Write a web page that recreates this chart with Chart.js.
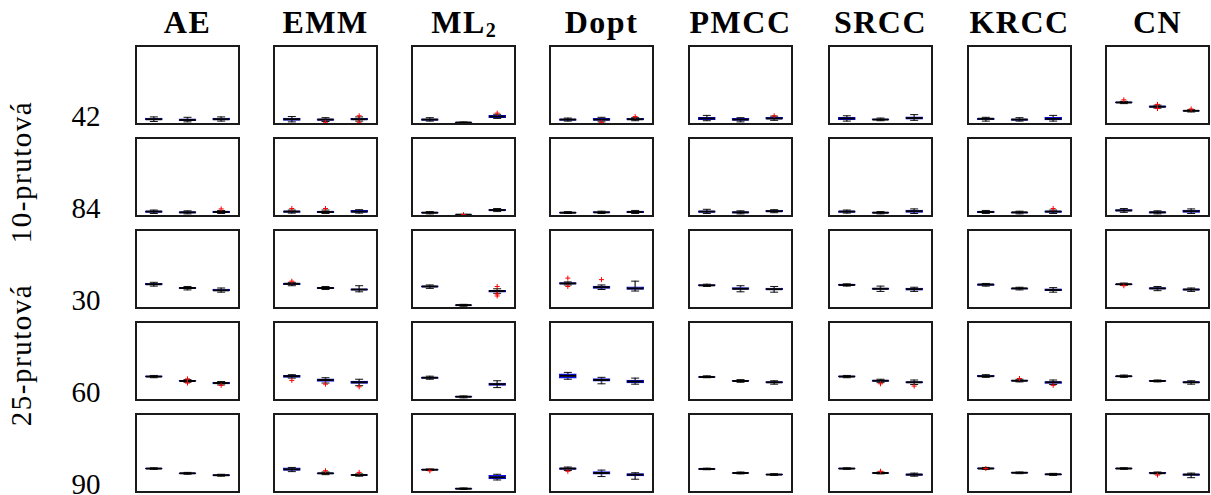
<!DOCTYPE html>
<html>
<head>
<meta charset="utf-8">
<script src="https://cdn.jsdelivr.net/npm/chart.js@4/dist/chart.umd.min.js"></script>
<style>
  html, body { margin: 0; padding: 0; background: #fff; }
  #wrap { position: relative; width: 1211px; height: 495px; overflow: hidden; font-family: "Liberation Serif", serif; color: #000; }
  .panel { position: absolute; box-sizing: border-box; border: 2px solid #1a1a1a; width: 105px; height: 80px; background: #fff; }
  .panel canvas { display: block; }
  .title { position: absolute; font-weight: bold; font-size: 32px; line-height: 32px; letter-spacing: 1.5px; white-space: nowrap; transform: translateX(-50%); }
  .title sub { font-size: 20px; line-height: 0; vertical-align: -4px; letter-spacing: 0; }
  .rowlab { position: absolute; font-size: 29px; line-height: 29px; transform: translateX(-50%); }
  .grplab { position: absolute; font-size: 29px; line-height: 29px; letter-spacing: 1.5px; white-space: nowrap; transform: translate(-50%, -50%) rotate(-90deg); }
</style>
</head>
<body>
<div id="wrap"></div>
<script>
// column titles, row labels, group labels
const methods = ['AE', 'EMM', 'ML<sub>2</sub>', 'Dopt', 'PMCC', 'SRCC', 'KRCC', 'CN'];
const rowLabels = ['42', '84', '30', '60', '90'];
const groupLabels = ['10-prutová', '25-prutová'];
const boxLabels = ['1', '2', '3'];

// boxplot stats per row, 3 boxes per method: [low whisker, q1, median, q3, high whisker]
// values are read as % of panel height from the bottom (no y ticks in the figure)
const boxes42 = [
  [2, 4, 5, 6.5, 8], [1.5, 3, 4, 5.5, 7.5], [2.5, 4, 5, 6.5, 8],
  [1.5, 3.5, 5, 6.5, 8.5], [2, 3.5, 4.5, 5.5, 7], [2.5, 4, 5, 6, 8],
  [2.5, 3.5, 4.5, 5.5, 7], [0, 0.3, 0.6, 1, 1.3], [6, 7, 8.5, 10, 11.5],
  [2.5, 3.5, 4.5, 5.5, 6.5], [1.5, 3.5, 4.5, 6, 7.5], [3, 4, 5, 6, 7],
  [3, 4.5, 6, 7.5, 10], [1.5, 3.5, 4.5, 6, 7], [3.5, 5, 6, 7.5, 9],
  [2.5, 4.5, 6, 7.5, 9.5], [3, 4, 4.5, 5.5, 6.5], [3.5, 5, 6.5, 8, 11],
  [2.5, 4.5, 5.5, 6.5, 7.5], [2.5, 3.5, 4.5, 5.5, 7], [2.5, 4, 5.5, 7.5, 10],
  [25.5, 26.5, 27, 28, 28.5], [19.5, 20.5, 21.5, 22.5, 23.5], [14.5, 15.5, 16, 16.5, 17.5]
];
const boxes84 = [
  [2, 3.5, 4.5, 5.5, 6.5], [1.5, 2.5, 3.5, 4.5, 5.5], [2, 3, 4, 5, 6],
  [2.5, 3.5, 4.5, 5.5, 6.5], [2, 3, 4, 5, 6.5], [2.5, 3.5, 4.5, 6, 7],
  [1.5, 2.5, 3, 4, 4.5], [0, 0.2, 0.4, 0.6, 0.8], [4.5, 5.5, 6.5, 7.5, 8.5],
  [2, 2.5, 3, 4, 4.5], [2, 3, 3.5, 4.5, 5], [2, 3, 4, 5, 6],
  [2, 3.5, 4.5, 5.5, 7.5], [1.5, 2.5, 3.5, 4.5, 5.5], [3, 4, 5, 6, 7],
  [2.5, 3.5, 4.5, 5.5, 6.5], [1.5, 2.5, 3, 4, 4.5], [2, 3.5, 5, 6.5, 8],
  [2, 3, 4, 5, 6], [1.5, 2.5, 3.5, 4, 5], [2, 3.5, 4.5, 5.5, 6.5],
  [3.5, 5, 6, 7, 8.5], [1.5, 2.5, 3.5, 4.5, 5.5], [2, 3.5, 5, 6.5, 8]
];
const boxes30 = [
  [27.5, 29, 30, 31, 32.5], [22.5, 24, 25, 26, 27], [19.5, 21, 22, 23.5, 25],
  [28, 29.5, 30.5, 31.5, 32.5], [23, 24, 25, 26, 27], [20, 22, 23, 24, 28],
  [24.5, 26, 27, 28, 29], [1, 2, 2.5, 3, 3.5], [18, 19.5, 21, 22, 24],
  [29, 30, 31, 32, 33], [23, 24.5, 26, 27.5, 29], [21, 23, 24.5, 26.5, 34],
  [27, 28, 28.5, 29.5, 30], [20, 23, 24, 25.5, 28], [19.5, 22.5, 23.5, 25, 27],
  [27.5, 28.5, 29, 30, 30.5], [20.5, 23, 24, 25, 27.5], [20.5, 22, 23.5, 25, 26],
  [27.5, 28.5, 29.5, 30.5, 31], [22.5, 23.5, 24.5, 25, 26], [19.5, 21.5, 22.5, 24, 25.5],
  [28.5, 29.5, 30, 30.5, 31.5], [21.5, 23.5, 24.5, 25.5, 27], [20.5, 22, 23, 24, 25]
];
const boxes60 = [
  [28, 29, 29.5, 30.5, 31], [22, 23, 23.7, 24.5, 25.5], [18.5, 20, 21, 22, 23],
  [27.5, 28.5, 30, 31, 32], [21, 23, 25, 26.5, 28], [17.5, 20.5, 22, 23.5, 26],
  [26, 27, 28, 29, 30], [1.5, 2.5, 3, 3.5, 4], [15, 18, 19.5, 21, 24],
  [26, 27.5, 30.5, 33, 35], [20, 23.5, 25, 27, 28.5], [19.5, 21, 23, 25, 27.5],
  [28, 28.5, 29, 29.5, 30.5], [22, 23, 23.7, 24.5, 25.5], [19.5, 21, 22, 23, 24],
  [28, 29, 29.5, 30.5, 31], [21.5, 23, 24, 25, 26], [19, 21, 22, 23, 25],
  [28.5, 29.5, 30, 31, 32], [22.5, 23.5, 24, 25, 26], [19, 20.5, 22, 23, 25],
  [28.5, 29.5, 30, 30.5, 31.5], [22.5, 23, 23.7, 24.5, 25], [19.5, 21, 22, 23, 24]
];
const boxes90 = [
  [28.5, 29, 29.5, 30, 30.5], [22, 22.8, 23.3, 24, 24.5], [19.5, 20.2, 20.8, 21.5, 22],
  [25.5, 27, 28.5, 30.5, 31], [21.5, 22.5, 23.3, 24, 25], [19.5, 20.5, 21, 21.5, 22.5],
  [27, 27.5, 28, 28.5, 29], [2, 2.5, 3, 3.5, 4], [14.5, 16, 18, 20.5, 22],
  [27, 28.5, 29.5, 30.5, 31.5], [19, 22, 23.7, 25.5, 27.5], [15.5, 20, 21.5, 23, 24],
  [28, 28.5, 29, 29.5, 30], [22.5, 23, 23.7, 24.3, 25], [20.5, 21, 21.6, 22.2, 22.8],
  [28.5, 29, 29.5, 30, 30.5], [22.5, 23, 23.7, 24.3, 25], [19.5, 20.5, 21.6, 22.5, 23.5],
  [28.5, 29, 29.6, 30.5, 31], [22.8, 23.4, 24, 24.5, 25], [20.5, 21.2, 22, 22.6, 23.2],
  [28.5, 29, 29.6, 30.2, 30.6], [22.5, 23, 23.5, 24.5, 25], [17.5, 20.5, 21.6, 22.5, 23.5]
];

// outliers (red +): [box index in row, value]
const out42 = [[4, 1], [5, 1], [5, 9.5], [8, 13], [10, 1], [11, 8.5], [14, 9.5], [21, 30.5], [22, 24.5], [22, 19], [23, 18.5]];
const out84 = [[2, 8], [3, 8.5], [4, 8.5], [7, 0.4], [20, 8.5]];
const out30 = [[3, 34], [8, 27], [8, 17], [8, 14.5], [9, 38], [9, 27], [10, 36], [21, 28]];
const out60 = [[1, 26.5], [1, 21], [2, 18], [3, 24.5], [4, 19.5], [5, 16], [16, 20], [17, 17], [19, 27], [20, 18]];
const out90 = [[4, 26.7], [5, 24.5], [6, 26.5], [9, 26], [16, 26], [18, 29.6], [22, 21]];

const allBoxes = [boxes42, boxes84, boxes30, boxes60, boxes90];
const allOut = [out42, out84, out30, out60, out90];

// layout (pixels)
const colLeft = [135, 273, 411, 549, 688, 828, 967, 1105];
const rowTop = [45, 137, 229, 321, 413];
const PW = 105, PH = 80;

const wrap = document.getElementById('wrap');

methods.forEach((m, c) => {
  const t = document.createElement('div');
  t.className = 'title';
  t.innerHTML = m;
  t.style.left = (colLeft[c] + PW / 2) + 'px';
  t.style.top = '6px';
  wrap.appendChild(t);
});

rowLabels.forEach((lab, r) => {
  const d = document.createElement('div');
  d.className = 'rowlab';
  d.textContent = lab;
  d.style.left = '86px';
  d.style.top = (rowTop[r] + PH + 1 - 24) + 'px';
  wrap.appendChild(d);
});

[[21, 172], [21, 355]].forEach((p, i) => {
  const d = document.createElement('div');
  d.className = 'grplab';
  d.textContent = groupLabels[i];
  d.style.left = p[0] + 'px';
  d.style.top = p[1] + 'px';
  wrap.appendChild(d);
});

function makePanel(r, c) {
  const div = document.createElement('div');
  div.className = 'panel';
  div.style.left = colLeft[c] + 'px';
  div.style.top = rowTop[r] + 'px';
  const cv = document.createElement('canvas');
  cv.width = PW - 4;
  cv.height = PH - 4;
  div.appendChild(cv);
  wrap.appendChild(div);

  const b = allBoxes[r].slice(c * 3, c * 3 + 3);
  const outs = allOut[r].filter(o => Math.floor(o[0] / 3) === c)
    .map(o => ({ x: boxLabels[o[0] % 3], y: o[1] }));

  new Chart(cv, {
    type: 'bar',
    data: {
      labels: boxLabels,
      datasets: [
        {
          // whiskers
          data: b.map(s => [s[0], s[4]]),
          backgroundColor: '#555',
          borderWidth: 0,
          barThickness: 1,
          grouped: false,
          order: 6
        },
        {
          // boxes
          data: b.map(s => [s[1], s[3]]),
          backgroundColor: 'rgba(120,120,210,0.55)',
          borderColor: '#1010f0',
          borderWidth: 1.5,
          borderSkipped: false,
          barThickness: 17,
          grouped: false,
          order: 5
        },
        {
          // lower caps
          type: 'line',
          data: b.map(s => s[0]),
          showLine: false,
          pointStyle: 'line',
          pointRadius: 4,
          borderColor: '#111',
          borderWidth: 1,
          order: 4
        },
        {
          // upper caps
          type: 'line',
          data: b.map(s => s[4]),
          showLine: false,
          pointStyle: 'line',
          pointRadius: 4,
          borderColor: '#111',
          borderWidth: 1,
          order: 3
        },
        {
          // medians
          type: 'line',
          data: b.map(s => s[2]),
          showLine: false,
          pointStyle: 'line',
          pointRadius: 8,
          borderColor: '#000',
          borderWidth: 2,
          order: 2
        },
        {
          type: 'line',
          data: outs,
          showLine: false,
          pointStyle: 'cross',
          pointRadius: 2.5,
          borderColor: '#ff0000',
          borderWidth: 1,
          order: 1
        }
      ]
    },
    options: {
      responsive: false,
      animation: false,
      events: [],
      layout: { padding: 0, autoPadding: false },
      scales: {
        x: { display: false, offset: true },
        y: { display: false, min: 0, max: 100 }
      },
      plugins: {
        legend: { display: false },
        tooltip: { enabled: false }
      }
    }
  });
}

for (let r = 0; r < rowTop.length; r++) {
  for (let c = 0; c < methods.length; c++) makePanel(r, c);
}
</script>
</body>
</html>
